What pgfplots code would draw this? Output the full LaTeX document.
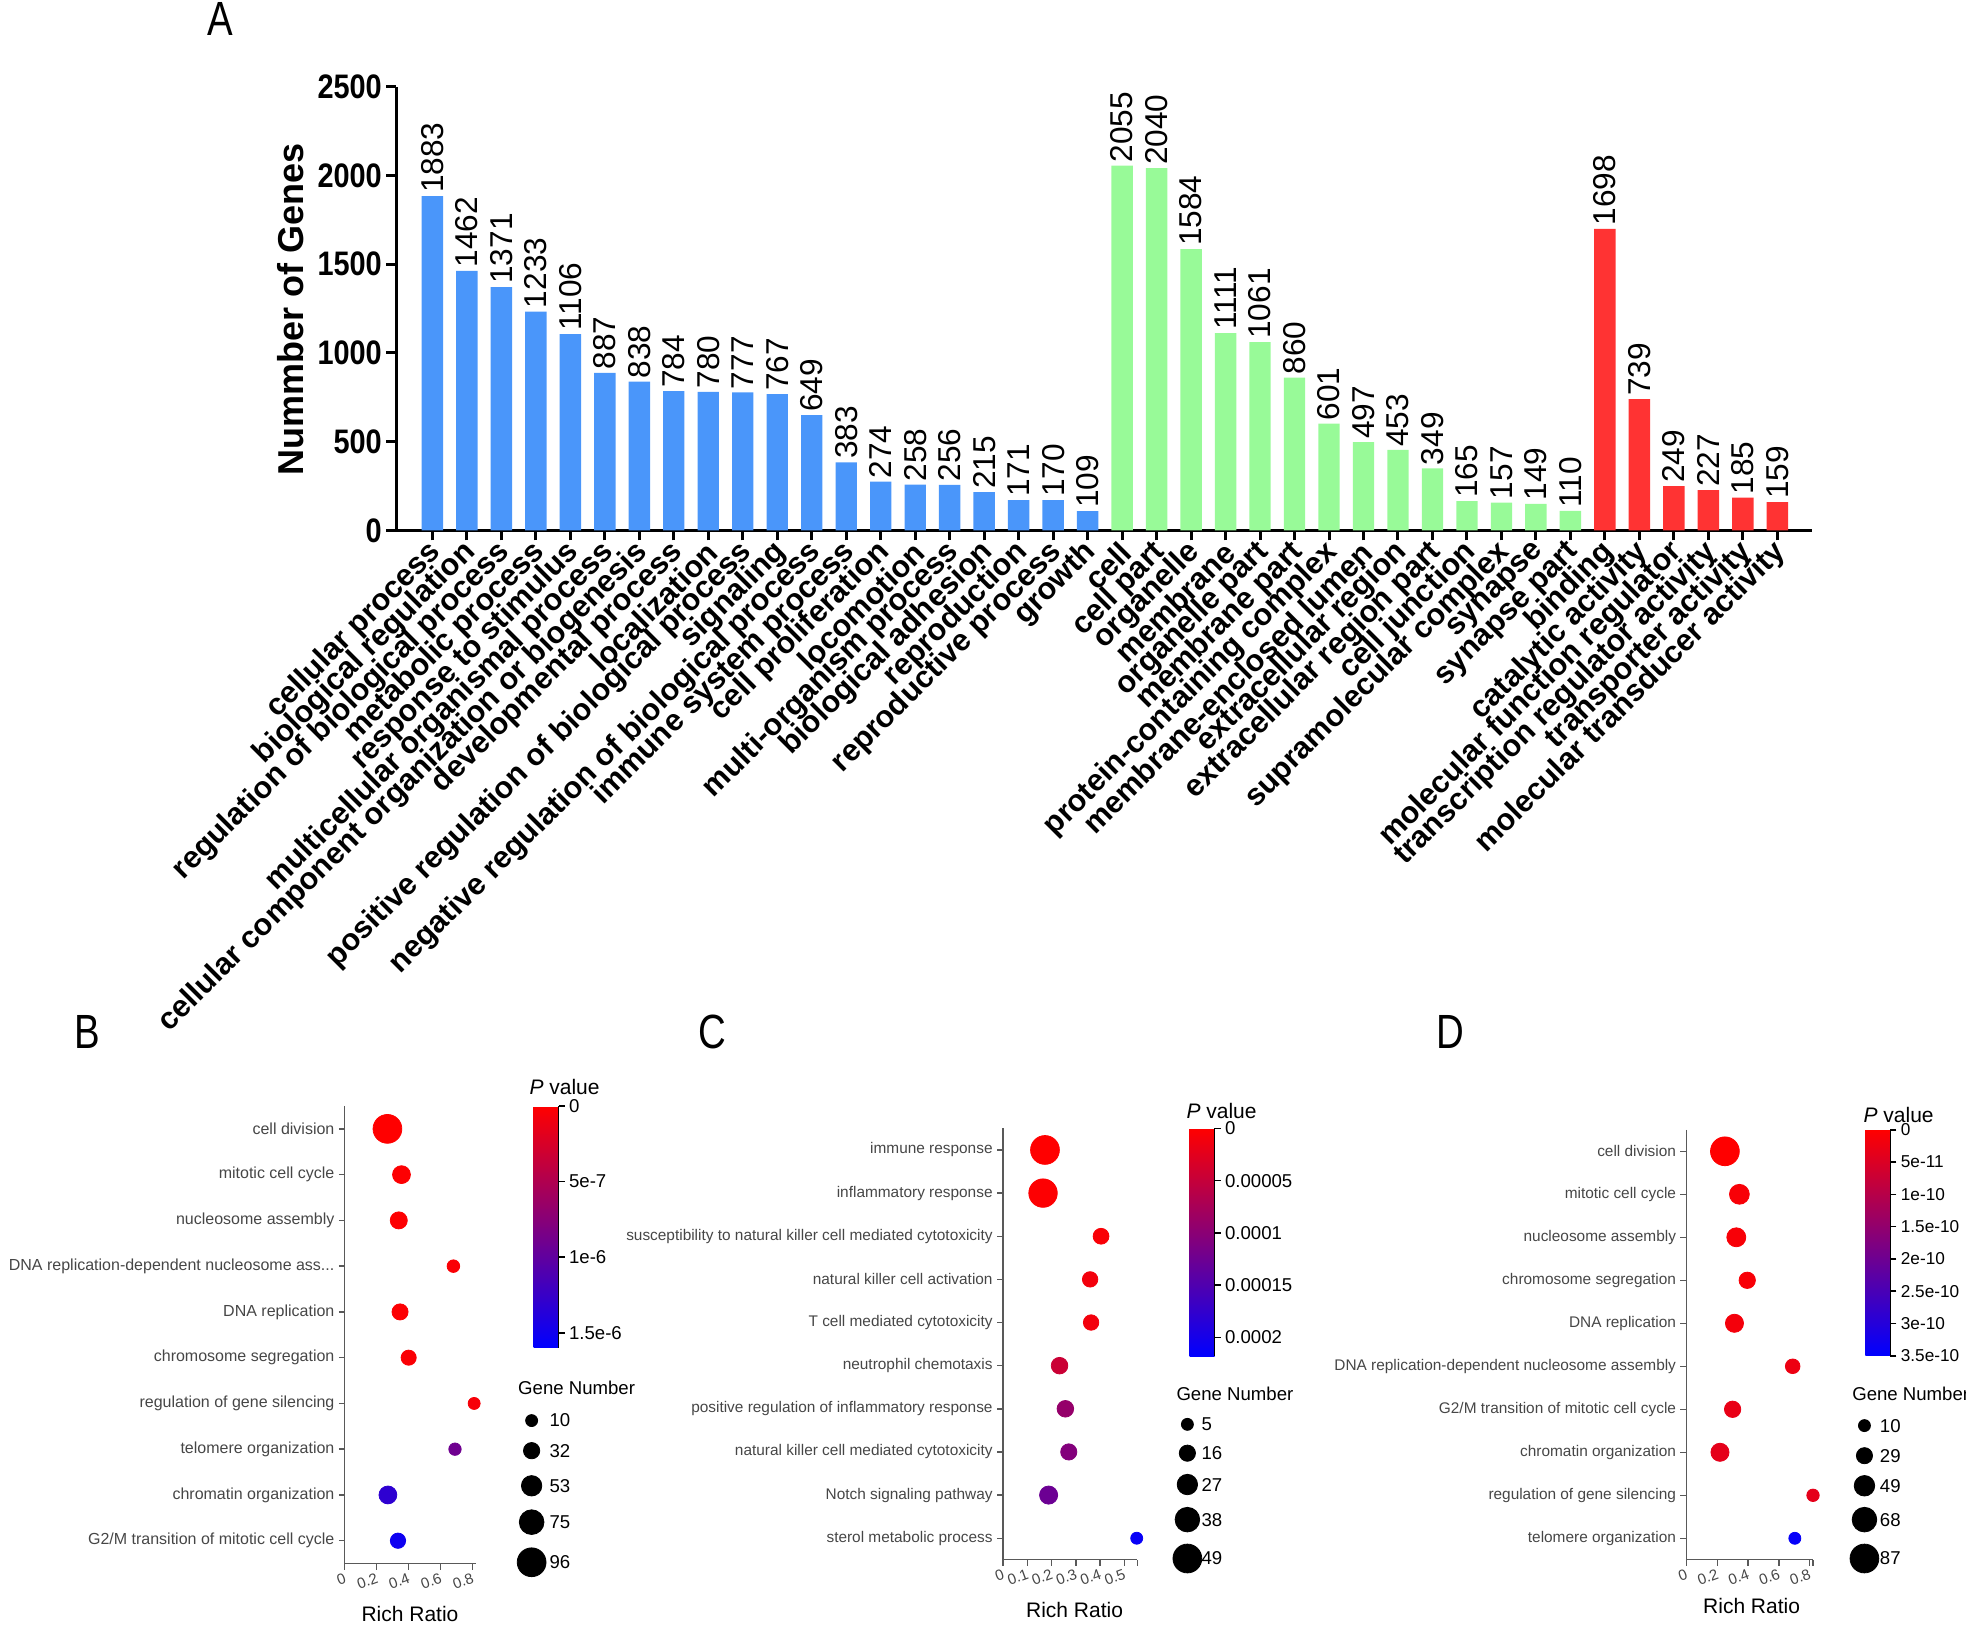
\documentclass[border=0pt]{standalone}
\usepackage{fontspec}
\setmainfont{Liberation Sans}
\usepackage{graphicx}
\usepackage{pgfplots}
\pgfplotsset{compat=1.18}
\newcommand\fs[1]{\fontsize{#1}{#1}\selectfont}
\newcommand\sqz[1]{\scalebox{0.85}[1]{#1}}
\newcommand\threedots{.\kern0pt.\kern0pt.}
\definecolor{barblue}{RGB}{74,150,250}
\definecolor{bargreen}{RGB}{152,250,152}
\definecolor{barred}{RGB}{255,51,51}
\definecolor{lab}{RGB}{70,70,70}
\pgfplotsset{
  bubble/.style={
    scale only axis, anchor=south west, clip=false,
    y dir=reverse, ymin=0.5, ymax=10.5, xmin=0,
    ytick={1,2,3,4,5,6,7,8,9,10},
    axis lines*=left, tick align=outside, xtick pos=bottom, ytick pos=left,
    axis line style={black!65, line width=0.7pt},
    tick style={black!65, line width=0.7pt},
    major tick length=3pt,
    yticklabel style={font=\fs{7.7}, text=lab, inner sep=2pt},
    xticklabel style={font=\fs{7.5}, text=lab, rotate=20, anchor=north east, inner sep=1pt},
    colormap={rb}{rgb255=(255,0,0) rgb255=(0,0,255)},
    colorbar,
    point meta min=0,
    colorbar style={at={(parent axis.north east)}, anchor=north west,
      width=12.5pt, scale only axis, y dir=reverse,
      axis y line*=right, axis x line=none,
      tick align=outside, major tick length=3pt,
      tick style={black, line width=0.8pt}, axis line style={black, line width=0.8pt},
      yticklabel style={font=\fs{9.3}, inner sep=2pt}},
  },
  bub/.style={scatter, only marks, mark=*, point meta=explicit,
    scatter/use mapped color={draw=mapped color, fill=mapped color},
    scatter/@pre marker code/.append style={/tikz/mark size=\rad pt}},
  leg/.style={scatter, only marks, mark=*, point meta=explicit,
    scatter/use mapped color={draw=black, fill=black},
    scatter/@pre marker code/.append style={/tikz/mark size=\rad pt}},
}
\begin{document}
\begin{tikzpicture}
\useasboundingbox (0,0) rectangle (983pt,813.1pt);

% ---------------- Panel A ----------------
\begin{axis}[at={(198.1pt,547.9pt)}, anchor=south west, scale only axis,
  width=707.8pt, height=221.9pt,
  xmin=-1.05, xmax=40, ymin=0, ymax=2500, clip=false,
  axis lines*=left, xtick pos=bottom, ytick pos=left, tick align=outside,
  axis line style={black, line width=1.5pt}, tick style={black, line width=1.5pt},
  major tick length=5pt,
  ytick={0,500,1000,1500,2000,2500},
  yticklabels={\sqz{0},\sqz{500},\sqz{1000},\sqz{1500},\sqz{2000},\sqz{2500}},
  yticklabel style={font=\bfseries\fs{17}, inner sep=2pt},
  xtick={0,1,2,3,4,5,6,7,8,9,10,11,12,13,14,15,16,17,18,19,20,21,22,23,24,25,26,27,28,29,30,31,32,33,34,35,36,37,38,39},
  xticklabels={cellular process, biological regulation, regulation of biological process, metabolic process, response to stimulus, multicellular organismal process, cellular component organization or biogenesis, developmental process, localization, positive regulation of biological process, signaling, negative regulation of biological process, immune system process, cell proliferation, locomotion, multi-organism process, biological adhesion, reproduction, reproductive process, growth, cell, cell part, organelle, membrane, organelle part, membrane part, protein-containing complex, membrane-enclosed lumen, extracellular region, extracellular region part, cell junction, supramolecular complex, synapse, synapse part, binding, catalytic activity, molecular function regulator, transcription regulator activity, transporter activity, molecular transducer activity},
  xticklabel style={font=\bfseries\fs{15.3}, rotate=45, anchor=east, inner sep=1pt, yshift=-4pt},
  nodes near coords={\pgfmathprintnumber[1000 sep={},assume math mode=true,fixed,precision=0]{\pgfplotspointmeta}},
  every node near coord/.append style={rotate=90, anchor=west, font=\fs{15.8}, inner sep=1.5pt},
]
\addplot[ybar, bar width=0.62, bar shift=0pt, fill=barblue, draw=none] coordinates {
(0,1883) (1,1462) (2,1371) (3,1233) (4,1106) (5,887) (6,838) (7,784) (8,780) (9,777)
(10,767) (11,649) (12,383) (13,274) (14,258) (15,256) (16,215) (17,171) (18,170) (19,109)};
\addplot[ybar, bar width=0.62, bar shift=0pt, fill=bargreen, draw=none] coordinates {
(20,2055) (21,2040) (22,1584) (23,1111) (24,1061) (25,860) (26,601) (27,497) (28,453)
(29,349) (30,165) (31,157) (32,149) (33,110)};
\addplot[ybar, bar width=0.62, bar shift=0pt, fill=barred, draw=none] coordinates {
(34,1698) (35,739) (36,249) (37,227) (38,185) (39,159)};
\end{axis}

% ---------------- Panel B ----------------
\begin{axis}[bubble, at={(172.4pt,31.3pt)}, width=65.8pt, height=228.8pt,
  xmax=0.824, xtick={0,0.2,0.4,0.6,0.8}, xticklabels={0,0.2,0.4,0.6,0.8},
  yticklabel style={font=\fs{8}},
  yticklabels={cell division, mitotic cell cycle, nucleosome assembly, {DNA replication-dependent nucleosome ass\threedots}, DNA replication, chromosome segregation, regulation of gene silencing, telomere organization, chromatin organization, G2/M transition of mitotic cell cycle},
  point meta max=16,
  colorbar style={xshift=20.1pt, height=121pt, ytick={0,5,10,15}, yticklabels={0,5e-7,1e-6,1.5e-6}},
]
\addplot[bub, visualization depends on={3+0.0488*(\thisrow{n}-10) \as \rad}]
 table[x=rr, y=idx, meta=p] {
idx rr n p
1 0.267 96 0
2 0.355 40 0.1
3 0.338 36 0.1
4 0.68 13 0.3
5 0.346 31 0.2
6 0.40 26 0.3
7 0.81 10 0.5
8 0.69 12 9
9 0.27 40 13
10 0.333 27 15
};
\end{axis}

% ---------------- Panel C ----------------
\begin{axis}[bubble, at={(501.5pt,33.2pt)}, width=67.1pt, height=215.7pt,
  xmax=0.553, xtick={0,0.1,0.2,0.3,0.4,0.5}, xticklabels={0,0.1,0.2,0.3,0.4,0.5},
  extra x ticks={0.553}, extra x tick labels={},
  yticklabels={immune response, inflammatory response, susceptibility to natural killer cell mediated cytotoxicity, natural killer cell activation, T cell mediated cytotoxicity, neutrophil chemotaxis, positive regulation of inflammatory response, natural killer cell mediated cytotoxicity, Notch signaling pathway, sterol metabolic process},
  point meta max=21.8,
  colorbar style={xshift=17.7pt, height=114pt, ytick={0,5,10,15,20}, yticklabels={0,0.00005,0.0001,0.00015,0.0002}},
]
\addplot[bub, visualization depends on={3+0.0955*(\thisrow{n}-5) \as \rad}]
 table[x=rr, y=idx, meta=p] {
idx rr n p
1 0.173 49 0
2 0.165 48 0.2
3 0.404 15 0.5
4 0.359 14 1
5 0.363 14 1
6 0.233 17 4.5
7 0.257 17 9
8 0.271 16 10.5
9 0.188 21 12.5
10 0.551 5 21
};
\end{axis}

% ---------------- Panel D ----------------
\begin{axis}[bubble, at={(843.2pt,33.2pt)}, width=63.3pt, height=215pt,
  xmax=0.822, xtick={0,0.2,0.4,0.6,0.8}, xticklabels={0,0.2,0.4,0.6,0.8},
  extra x ticks={0.822}, extra x tick labels={},
  yticklabels={cell division, mitotic cell cycle, nucleosome assembly, chromosome segregation, DNA replication, DNA replication-dependent nucleosome assembly, G2/M transition of mitotic cell cycle, chromatin organization, regulation of gene silencing, telomere organization},
  point meta max=35,
  colorbar style={xshift=17.7pt, height=113pt, ytick={0,5,10,15,20,25,30,35}, yticklabels={0,5e-11,1e-10,1.5e-10,2e-10,2.5e-10,3e-10,3.5e-10}, yticklabel style={font=\fs{8.6}}},
]
\addplot[bub, visualization depends on={3+0.0545*(\thisrow{n}-10) \as \rad}]
 table[x=rr, y=idx, meta=p] {
idx rr n p
1 0.25 87 0
2 0.344 46 1
3 0.324 42 1
4 0.395 30 1
5 0.312 38 1.5
6 0.69 22 2.5
7 0.30 30 3
8 0.218 38 3.5
9 0.822 12 3.5
10 0.704 10 34
};
\end{axis}

% ---------------- Overlay: legends and text ----------------
\begin{axis}[at={(0pt,0pt)}, anchor=south west, scale only axis,
  width=983pt, height=813.1pt, xmin=0, xmax=1568, ymin=0, ymax=1297,
  y dir=reverse, hide axis, clip=false]
\addplot[leg, visualization depends on={3+0.0488*(\thisrow{n}-10) \as \rad}]
 table[x=x, y=y, meta=n] {
x y n
424 1133 10
424 1157 32
424 1185 53
424 1214 75
424 1246 96
};
\addplot[leg, visualization depends on={3+0.0955*(\thisrow{n}-5) \as \rad}]
 table[x=x, y=y, meta=n] {
x y n
947 1136 5
947 1159 16
947 1184 27
947 1212 38
947 1243 49
};
\addplot[leg, visualization depends on={3+0.0545*(\thisrow{n}-10) \as \rad}]
 table[x=x, y=y, meta=n] {
x y n
1487 1137 10
1487 1161 29
1487 1185 49
1487 1212 68
1487 1243 87
};
\node[font=\fs{24}] at (axis cs:176,15) {\scalebox{0.8}[1]{A}};
\node[font=\fs{24}] at (axis cs:70,823) {\scalebox{0.8}[1]{B}};
\node[font=\fs{24}] at (axis cs:568,823) {\scalebox{0.8}[1]{C}};
\node[font=\fs{24}] at (axis cs:1157,823) {\scalebox{0.8}[1]{D}};
\node[rotate=90, font=\bfseries\fs{18}] at (axis cs:232,247) {Nummber of Genes};
\node[anchor=west, font=\fs{10.5}, inner sep=0pt] at (axis cs:422,867) {\textit{P} value};
\node[anchor=west, font=\fs{10.5}, inner sep=0pt] at (axis cs:946,886) {\textit{P} value};
\node[anchor=west, font=\fs{10.5}, inner sep=0pt] at (axis cs:1486,889) {\textit{P} value};
\node[anchor=west, font=\fs{9.3}, inner sep=0pt] at (axis cs:413,1107) {Gene Number};
\node[anchor=west, font=\fs{9.3}, inner sep=0pt] at (axis cs:938,1112) {Gene Number};
\node[anchor=west, font=\fs{9.3}, inner sep=0pt] at (axis cs:1477,1112) {Gene Number};
\node[anchor=west, font=\fs{9.3}, inner sep=0pt] at (axis cs:438,1133) {10};
\node[anchor=west, font=\fs{9.3}, inner sep=0pt] at (axis cs:438,1157) {32};
\node[anchor=west, font=\fs{9.3}, inner sep=0pt] at (axis cs:438,1185) {53};
\node[anchor=west, font=\fs{9.3}, inner sep=0pt] at (axis cs:438,1214) {75};
\node[anchor=west, font=\fs{9.3}, inner sep=0pt] at (axis cs:438,1246) {96};
\node[anchor=west, font=\fs{9.3}, inner sep=0pt] at (axis cs:958,1136) {5};
\node[anchor=west, font=\fs{9.3}, inner sep=0pt] at (axis cs:958,1159) {16};
\node[anchor=west, font=\fs{9.3}, inner sep=0pt] at (axis cs:958,1184) {27};
\node[anchor=west, font=\fs{9.3}, inner sep=0pt] at (axis cs:958,1212) {38};
\node[anchor=west, font=\fs{9.3}, inner sep=0pt] at (axis cs:958,1243) {49};
\node[anchor=west, font=\fs{9.3}, inner sep=0pt] at (axis cs:1499,1137) {10};
\node[anchor=west, font=\fs{9.3}, inner sep=0pt] at (axis cs:1499,1161) {29};
\node[anchor=west, font=\fs{9.3}, inner sep=0pt] at (axis cs:1499,1185) {49};
\node[anchor=west, font=\fs{9.3}, inner sep=0pt] at (axis cs:1499,1212) {68};
\node[anchor=west, font=\fs{9.3}, inner sep=0pt] at (axis cs:1499,1243) {87};
\node[font=\fs{10.5}] at (axis cs:327,1287) {Rich Ratio};
\node[font=\fs{10.5}] at (axis cs:857,1284) {Rich Ratio};
\node[font=\fs{10.5}] at (axis cs:1397,1281) {Rich Ratio};
\end{axis}
\end{tikzpicture}
\end{document}
